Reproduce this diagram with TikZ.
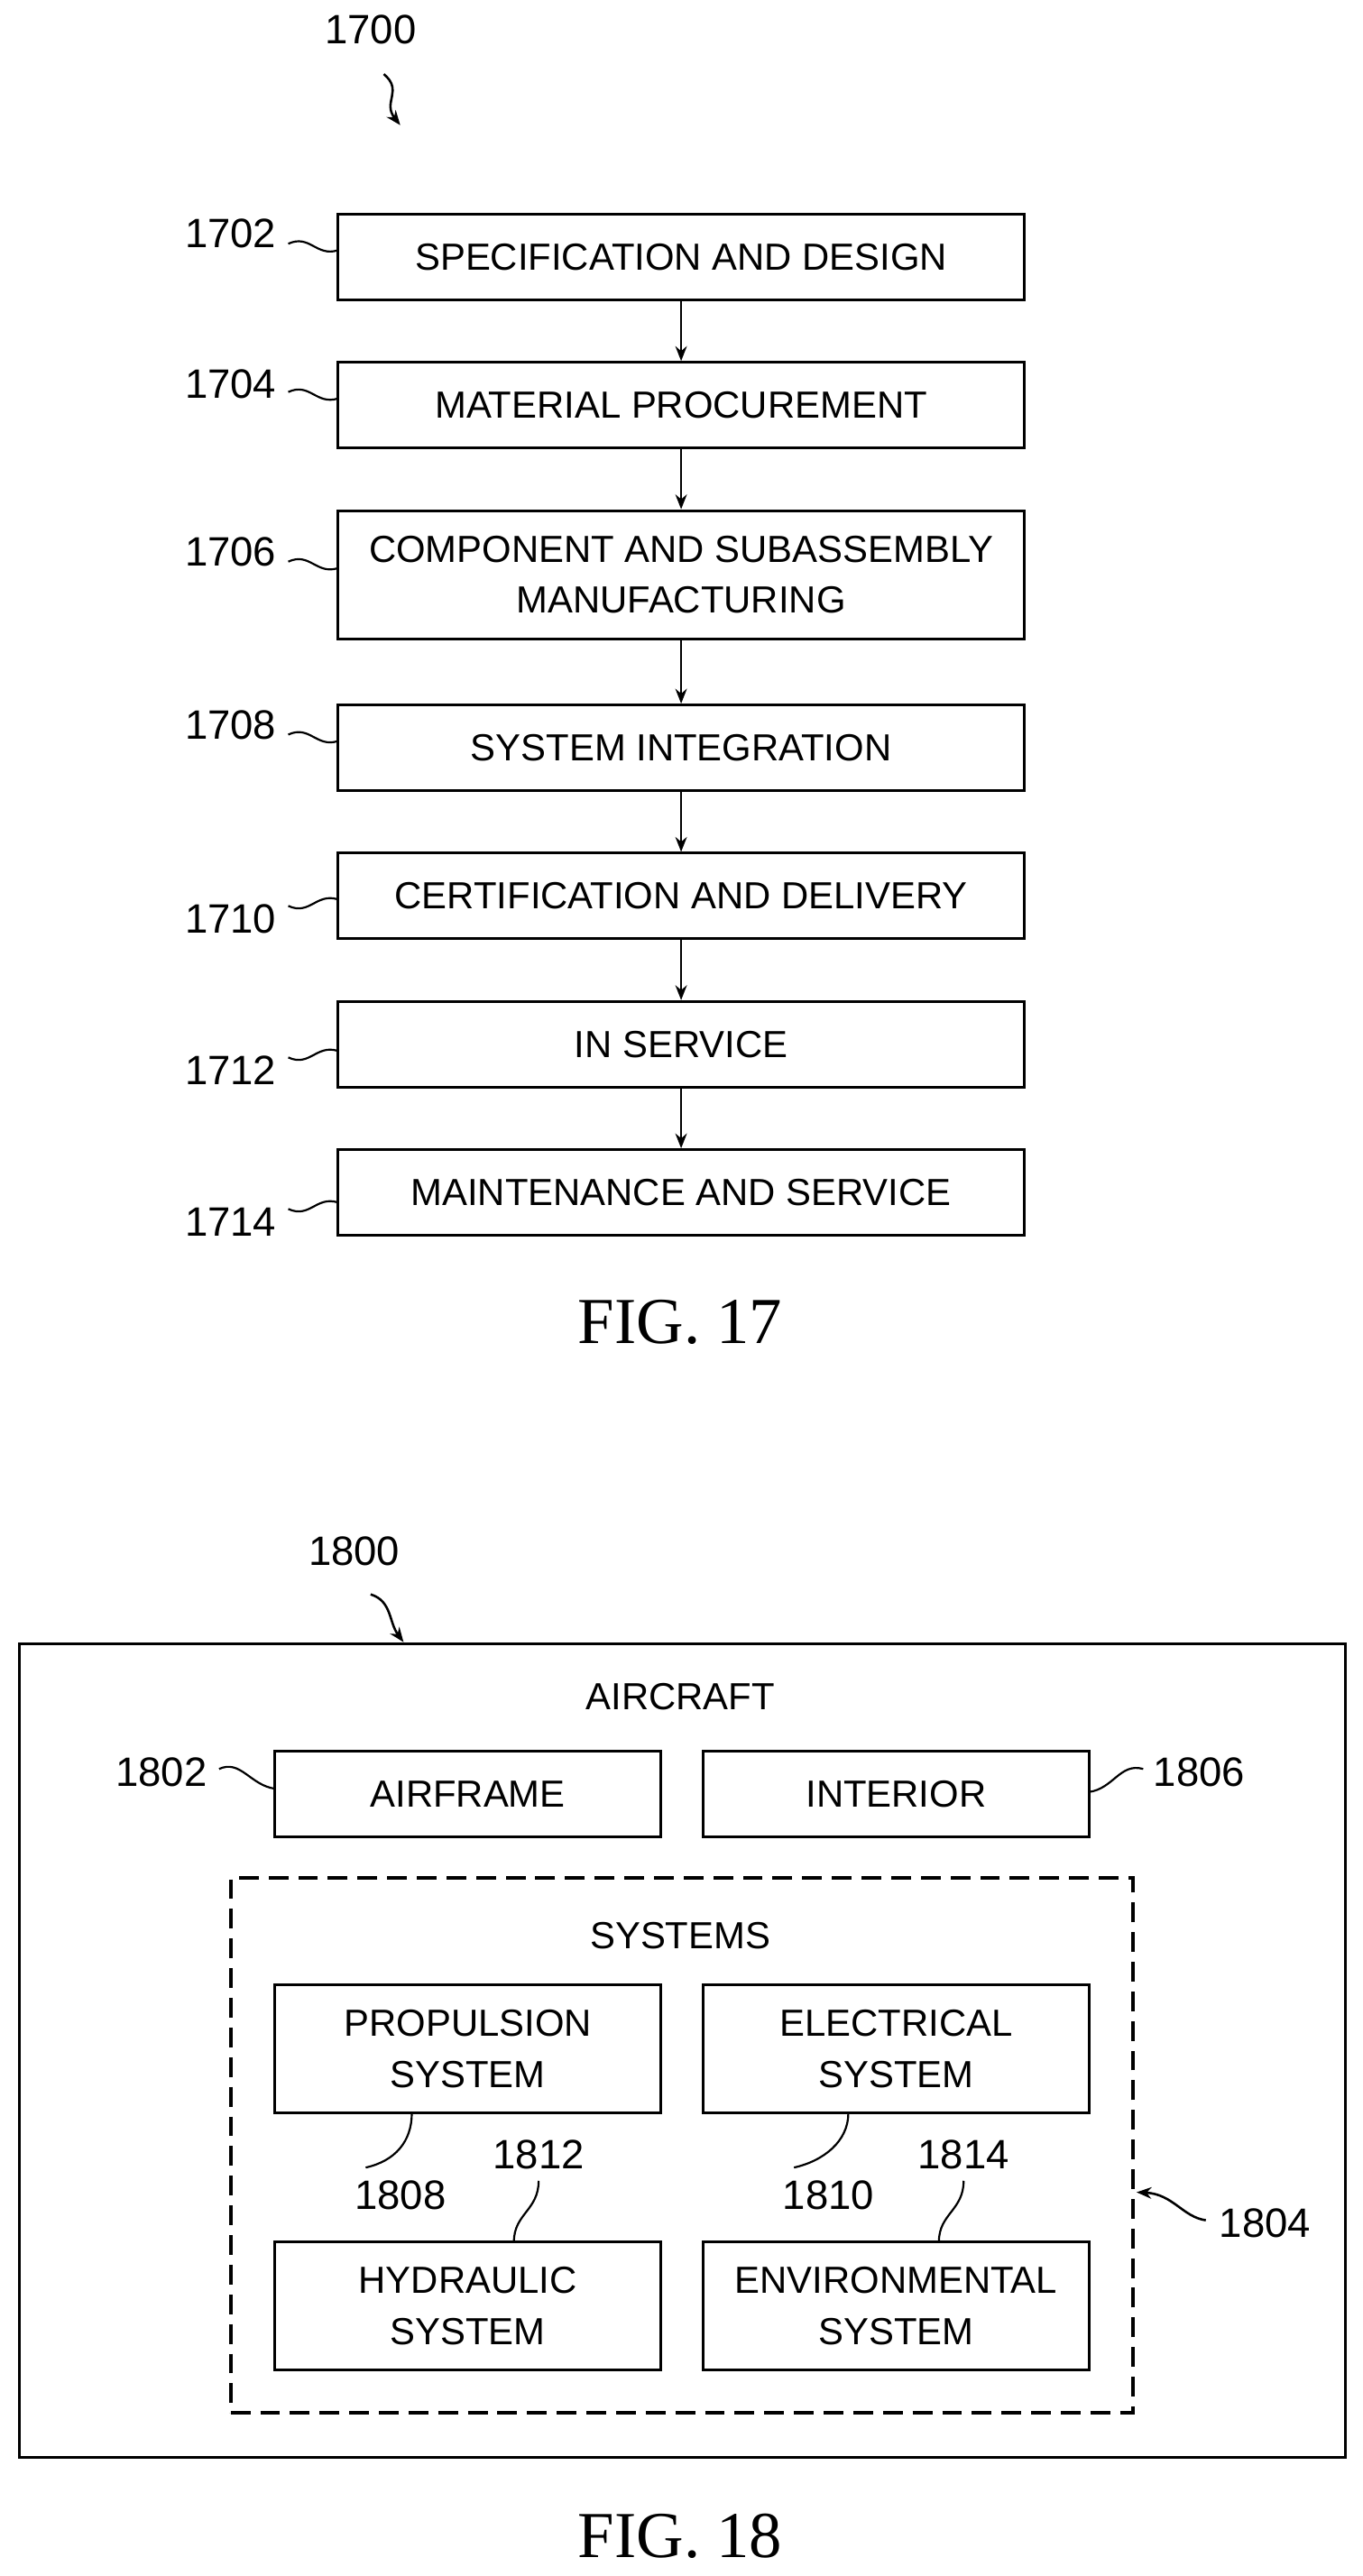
\documentclass[tikz,border=0pt]{standalone}
\usetikzlibrary{arrows.meta}
\usepackage{fontspec}
\setmainfont{Liberation Sans}
\newfontfamily\figfont{Liberation Serif}
\begin{document}
\begin{tikzpicture}[x=1bp,y=-1bp,
 box/.style={draw,line width=1.6bp,minimum width=417bp,inner sep=0pt,align=center,font=\fontsize{23}{31}\selectfont},
 sbox/.style={draw,line width=1.6bp,minimum width=234bp,inner sep=0pt,align=center,font=\fontsize{23}{31}\selectfont},
 lbl/.style={font=\fontsize{25}{30}\selectfont,inner sep=1bp},
 fig/.style={font=\figfont\fontsize{40}{44}\selectfont},
 ar/.style={line width=1.4bp,-{Stealth[length=9bp,width=7bp]}},
 ld/.style={line width=1.2bp}]
\useasboundingbox (0,0) rectangle (827,1564);
% FIG 17
\node[lbl] (n1700) at (225,18) {1700};
\coordinate (a1700s) at (233,45); \coordinate (a1700e) at (243,76);
\draw[ar] (a1700s) .. controls (245,55) and (232,62) .. (a1700e);
\node[box,minimum height=52bp] (b1) at (413.5,156) {SPECIFICATION AND DESIGN};
\node[box,minimum height=52bp] (b2) at (413.5,246) {MATERIAL PROCUREMENT};
\node[box,minimum height=78bp] (b3) at (413.5,349) {COMPONENT AND SUBASSEMBLY\\MANUFACTURING};
\node[box,minimum height=52bp] (b4) at (413.5,454) {SYSTEM INTEGRATION};
\node[box,minimum height=52bp] (b5) at (413.5,544) {CERTIFICATION AND DELIVERY};
\node[box,minimum height=52bp] (b6) at (413.5,634) {IN SERVICE};
\node[box,minimum height=52bp] (b7) at (413.5,724) {MAINTENANCE AND SERVICE};
\foreach \a/\b in {b1/b2,b2/b3,b3/b4,b4/b5,b5/b6,b6/b7} \draw[ar] (\a) -- (\b);
\foreach \n/\y/\t in {1702/142/148,1704/233/238,1706/335/341,1708/440/446}{
 \node[lbl] (l\n) at (140,\y) {\n};
 \draw[ld] (175,\t) .. controls (188,\t-6) and (192,\t+8) .. (205,\t+4);}
\foreach \n/\y/\t in {1710/558/550,1712/650/642,1714/742/734}{
 \node[lbl] (l\n) at (140,\y) {\n};
 \draw[ld] (175,\t) .. controls (188,\t+6) and (192,\t-8) .. (205,\t-4);}
\node[fig] (f17) at (413,803) {FIG. 17};
% FIG 18
\node[draw,line width=1.6bp,minimum width=805bp,minimum height=494bp] (air) at (414.5,1245) {};
\node[lbl,font=\fontsize{23}{28}\selectfont] (tair) at (413,1030) {AIRCRAFT};
\node[lbl] (n1800) at (215,942) {1800};
\draw[ar] (225,968) .. controls (238,972) and (236,985) .. (245,997);
\node[sbox,minimum height=52bp] (af) at (284,1089) {AIRFRAME};
\node[sbox,minimum height=52bp] (in) at (544,1089) {INTERIOR};
\node[draw,dashed,dash pattern=on 12bp off 6bp,line width=2.2bp,minimum width=548bp,minimum height=325bp] (sys) at (414,1302.5) {};
\node[lbl,font=\fontsize{23}{28}\selectfont] (tsys) at (413,1175) {SYSTEMS};
\node[sbox,minimum height=78bp] (pr) at (284,1244) {PROPULSION\\SYSTEM};
\node[sbox,minimum height=78bp] (el) at (544,1244) {ELECTRICAL\\SYSTEM};
\node[sbox,minimum height=78bp] (hy) at (284,1400) {HYDRAULIC\\SYSTEM};
\node[sbox,minimum height=78bp] (en) at (544,1400) {ENVIRONMENTAL\\SYSTEM};
\node[lbl] (l1802) at (98,1076) {1802};
\draw[ld] (133,1074) .. controls (146,1068) and (152,1084) .. (167,1086);
\node[lbl] (l1806) at (728,1076) {1806};
\draw[ld] (661,1088) .. controls (676,1086) and (680,1070) .. (694,1074);
\node[lbl] (l1808) at (243,1333) {1808};
\draw[ld] (222,1316) .. controls (240,1312) and (250,1300) .. (250,1283);
\node[lbl] (l1812) at (327,1308) {1812};
\draw[ld] (327,1324) .. controls (327,1342) and (312,1344) .. (312,1361);
\node[lbl] (l1810) at (503,1333) {1810};
\draw[ld] (482,1316) .. controls (500,1312) and (515,1300) .. (515,1283);
\node[lbl] (l1814) at (585,1308) {1814};
\draw[ld] (585,1324) .. controls (585,1342) and (570,1344) .. (570,1361);
\node[lbl] (l1804) at (768,1350) {1804};
\draw[ar] (732,1348) .. controls (718,1346) and (712,1332) .. (690,1331);
\node[fig] (f18) at (413,1540) {FIG. 18};
\end{tikzpicture}
\end{document}
